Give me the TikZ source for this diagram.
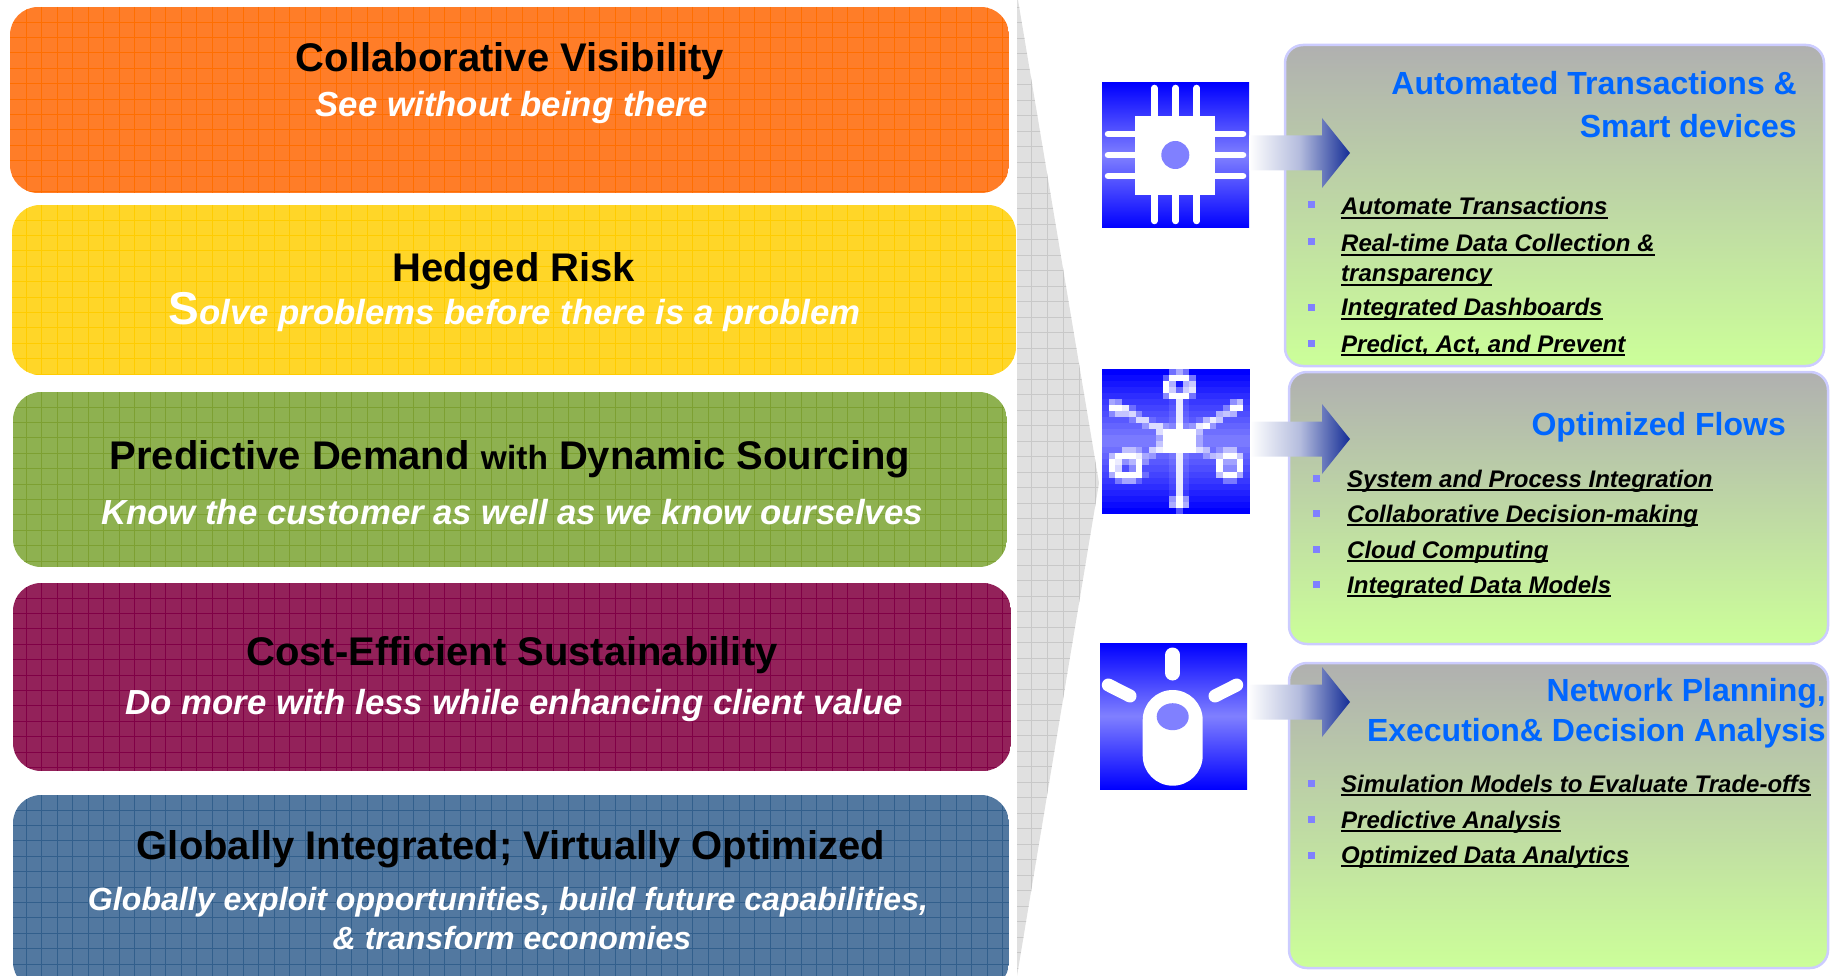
\documentclass[tikz,border=0pt]{standalone}
\usepackage{fontspec}
\setmainfont{Liberation Sans}
\definecolor{iconblue}{RGB}{0,0,255}
\definecolor{iconmid}{RGB}{128,128,255}
\definecolor{boxedge}{RGB}{204,204,255}
\definecolor{boxtop}{RGB}{176,176,176}
\definecolor{boxbot}{RGB}{204,255,153}
\definecolor{headblue}{RGB}{0,102,255}
\definecolor{arrowend}{RGB}{20,45,150}
\definecolor{gOrange}{RGB}{255,125,40}\definecolor{lOrange}{RGB}{255,110,0}
\definecolor{gYellow}{RGB}{255,214,40}\definecolor{lYellow}{RGB}{255,204,0}
\definecolor{gGreen}{RGB}{142,177,80}\definecolor{lGreen}{RGB}{125,160,50}
\definecolor{gMaroon}{RGB}{147,34,90}\definecolor{lMaroon}{RGB}{128,0,70}
\definecolor{gBlue}{RGB}{82,120,160}\definecolor{lBlue}{RGB}{50,95,140}
\definecolor{gGrey}{RGB}{224,224,224}\definecolor{lGrey}{RGB}{200,200,200}
\newcommand\ulbox[1]{\setbox0\hbox{#1}\rlap{\rule[-3.6pt]{\wd0}{1.5pt}}\box0}
% band: x1 y1 x2 y2 fill line
\newcommand\myband[6]{%
  \begin{scope}
    \clip[rounded corners=28] (#1,#2) rectangle (#3,#4);
    \fill[#5] (#1,#2) rectangle (#3,#4);
    \foreach \k in {0,...,64} \draw[#6,line width=.9pt] ({26.2+15.5*\k},#2) -- ({26.2+15.5*\k},#4);
    \foreach \k in {0,...,13} \draw[#6,line width=.9pt] (#1,{#2+15+15.4*\k}) -- (#3,{#2+15+15.4*\k});
  \end{scope}}
\newcommand\myarrow[3]{% x0 y-tip name
  \path[left color=white,right color=arrowend,middle color=arrowend!32!white]
    (#1,#2-17.5) -- (1322,#2-17.5) -- (1322,#2-35) -- (1350,#2) -- (1322,#2+35) -- (1322,#2+17.5) -- (#1,#2+17.5) -- cycle;}
% pixel map of the star icon: one digit per cell, 0 none .. 9 solid white
\newcount\pxc
\newcount\pxr
\def\pxrow#1{\pxc=0 \pxloop#1\relax \advance\pxr by 1 }
\def\pxloop#1{\ifx#1\relax\else
  \ifnum#1>0 \pgfmathsetmacro\pxop{#1/9}%
    \fill[white,fill opacity=\pxop] ({1102+6.727*\the\pxc},{369+6.03*\the\pxr}) rectangle ++(6.727,6.03);\fi
  \advance\pxc by 1 \expandafter\pxloop\fi}
\tikzset{
  title/.style={anchor=base,inner sep=0pt,text=black,font=\fontsize{40}{46}\selectfont\bfseries},
  sub/.style={anchor=base,inner sep=0pt,text=white,font=\fontsize{34.8}{40}\selectfont\bfseries\itshape},
  subsmall/.style={anchor=base,inner sep=0pt,text=white,font=\fontsize{32.1}{38}\selectfont\bfseries\itshape},
  head/.style={anchor=base east,inner sep=0pt,text=headblue,font=\fontsize{32}{38}\selectfont\bfseries},
  item/.style={anchor=base west,inner sep=0pt,text=black,font=\fontsize{24}{28}\selectfont\bfseries\itshape},
  bul/.style={fill=iconmid,minimum size=7pt,inner sep=0pt},
  panel/.style={draw=boxedge,line width=2.5pt,rounded corners=18,top color=boxtop,bottom color=boxbot},
  icon/.style={top color=iconblue,bottom color=iconblue,middle color=iconmid},
  pin/.style={draw=white,line width=6.5pt,line cap=round}
}
\begin{document}
\begin{tikzpicture}[x=1pt,y=-1pt]
\useasboundingbox (0,0) rectangle (1833,976);
% grey wedge
\begin{scope}
  \clip (1017,0) -- (1018,0) -- (1099,483) -- (1017,976) -- cycle;
  \fill[gGrey] (1017,0) rectangle (1100,976);
  \foreach \k in {0,...,5} \draw[lGrey,line width=.9pt] ({1031.7+15.9*\k},0) -- ({1031.7+15.9*\k},976);
  \foreach \k in {0,...,63} \draw[lGrey,line width=.9pt] (1017,{7+15.5*\k}) -- (1100,{7+15.5*\k});
\end{scope}
% bands
\myband{10}{7}{1009}{193}{gOrange}{lOrange}
\myband{12}{205}{1016}{375}{gYellow}{lYellow}
\myband{13}{392}{1007}{567}{gGreen}{lGreen}
\myband{13}{583}{1011}{771}{gMaroon}{lMaroon}
\myband{13}{795}{1009}{990}{gBlue}{lBlue}
\node[title] (t1) at (510,71.5) {Collaborative Visibility};
\node[sub] (s1) at (512,117) {See without being there};
\node[title] (t2) at (514,281.5) {Hedged Risk};
\node[sub] (s2) at (514.5,324) {{\fontsize{46}{46}\selectfont\upshape S}olve problems before there is a problem};
\node[title] (t3) at (510,469.5) {Predictive Demand {\fontsize{33.5}{36}\selectfont with} Dynamic Sourcing};
\node[sub] (s3) at (512,524) {Know the customer as well as we know ourselves};
\node[title] (t4) at (512,665) {Cost-Efficient Sustainability};
\node[sub] (s4) at (514,714) {Do more with less while enhancing client value};
\node[title] (t5) at (511,859) {Globally Integrated; Virtually Optimized};
\node[subsmall] (s5a) at (508,910.5) {Globally exploit opportunities, build future capabilities,};
\node[subsmall] (s5b) at (512,949) {\& transform economies};
% panels
\path[panel] (1285,45) rectangle (1824,366);
\path[panel] (1289,372) rectangle (1828,644);
\path[panel] (1289,663) rectangle (1828,968);
% chip icon
\path[icon] (1102,83) rectangle (1249,228);
\foreach \x in {1154.3,1175.7,1196.7} \draw[pin] (\x,88) -- (\x,221);
\foreach \y in {134,155,176} \draw[pin] (1108,\y) -- (1243,\y);
\fill[white] (1135.3,115.7) rectangle (1215.3,195);
\fill[iconmid] (1175.3,155) circle (14);
% star icon, drawn cell by cell
\foreach \r in {0,...,23} {
  \pgfmathsetmacro\pxmix{100*(1-abs(\r-11.5)/11.5)}
  \fill[iconmid!\pxmix!iconblue] (1102,{369+6.03*\r}) rectangle (1250,{369+6.03*(\r+1)+0.4});
}
\pxr=0
\pxrow{0000000000464000000000}
\pxrow{0000000003999400000000}
\pxrow{0000000009606700000000}
\pxrow{0000000009737800000000}
\pxrow{0000000004999300000000}
\pxrow{0540000000181000000460}
\pxrow{0998200000181000003990}
\pxrow{0366730000181000056500}
\pxrow{0000277100181015860000}
\pxrow{0000003773292389300000}
\pxrow{0000000079999950000000}
\pxrow{0000000039999930000000}
\pxrow{0000000059999930000000}
\pxrow{0005530689999975025500}
\pxrow{0599984300181003569960}
\pxrow{0983593000181000094490}
\pxrow{0970390000181000093390}
\pxrow{0599992000181000069950}
\pxrow{0035520000181000003300}
\pxrow{0000000000181000000000}
\pxrow{0000000000181000000000}
\pxrow{0000000000595000000000}
\pxrow{0000000000696000000000}
\pxrow{0000000000030000000000}
% bulb icon
\path[icon] (1100,643) rectangle (1247,789);
\draw[white,line width=15pt,line cap=round] (1172.7,655) -- (1172.7,673);
\draw[white,line width=13pt,line cap=round] (1108.3,685) -- (1130,696);
\draw[white,line width=13pt,line cap=round] (1236.7,685) -- (1215,696);
\fill[white,rounded corners=30] (1142.7,690) rectangle (1202.7,785.7);
\fill[iconmid] (1172.7,716.7) ellipse (16 and 13.5);
% arrows
\myarrow{1249}{153}{a1}
\myarrow{1250}{439}{a2}
\myarrow{1248}{702}{a3}
% panel 1 text
\node[head] (h1a) at (1797,95) {Automated Transactions \&};
\node[head] (h1b) at (1797,138) {Smart devices};
\node[bul] (b11) at (1311,205) {}; \node[item] (i11) at (1341,215) {\ulbox{Automate Transactions}};
\node[bul] (b12) at (1311,242) {}; \node[item] (i12) at (1341,252) {\ulbox{Real-time Data Collection \&}};
\node[item] (i12b) at (1341,282) {\ulbox{transparency}};
\node[bul] (b13) at (1311,307) {}; \node[item] (i13) at (1341,316) {\ulbox{Integrated Dashboards}};
\node[bul] (b14) at (1311,343) {}; \node[item] (i14) at (1341,352) {\ulbox{Predict, Act, and Prevent}};
% panel 2 text
\node[head] (h2) at (1786,435) {Optimized Flows};
\node[bul] (b21) at (1316,478) {}; \node[item] (i21) at (1347,487) {\ulbox{System and Process Integration}};
\node[bul] (b22) at (1316,513) {}; \node[item] (i22) at (1347,522) {\ulbox{Collaborative Decision-making}};
\node[bul] (b23) at (1316,549) {}; \node[item] (i23) at (1347,558) {\ulbox{Cloud Computing}};
\node[bul] (b24) at (1316,584) {}; \node[item] (i24) at (1347,593) {\ulbox{Integrated Data Models}};
% panel 3 text
\node[head] (h3a) at (1826,701) {Network Planning,};
\node[head] (h3b) at (1826,741) {Execution\& Decision Analysis};
\node[bul] (b31) at (1311,783) {}; \node[item] (i31) at (1341,792) {\ulbox{Simulation Models to Evaluate Trade-offs}};
\node[bul] (b32) at (1311,819) {}; \node[item] (i32) at (1341,828) {\ulbox{Predictive Analysis}};
\node[bul] (b33) at (1311,855) {}; \node[item] (i33) at (1341,863) {\ulbox{Optimized Data Analytics}};
\end{tikzpicture}
\end{document}
